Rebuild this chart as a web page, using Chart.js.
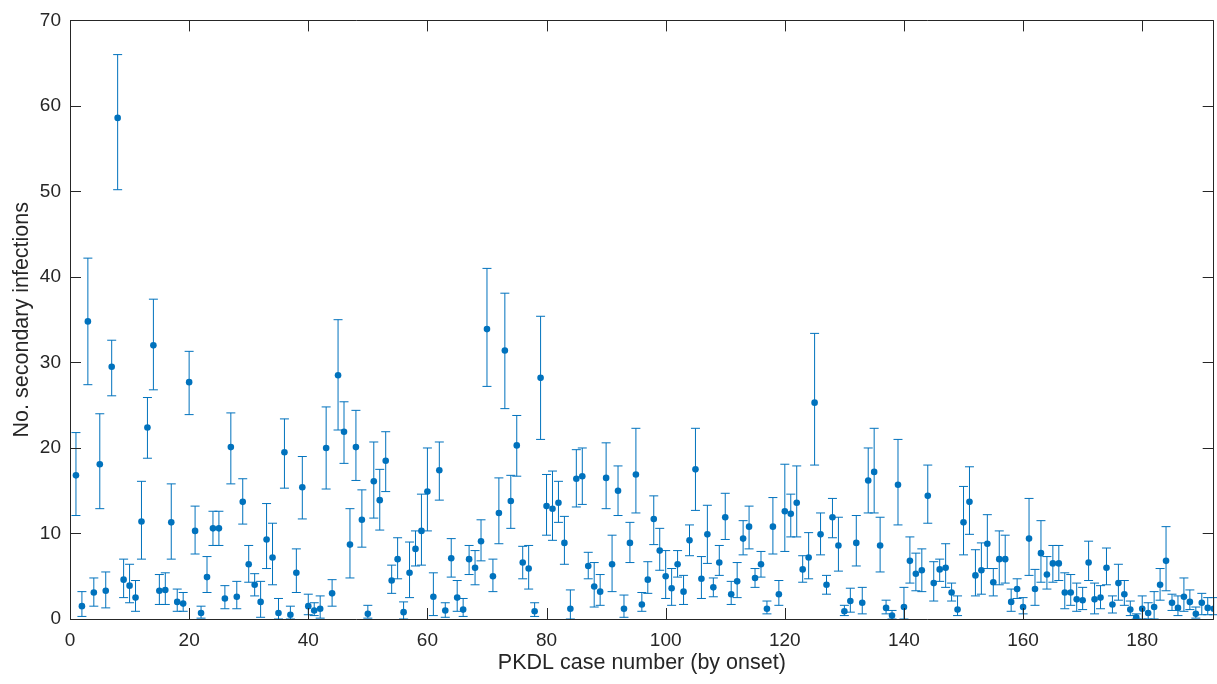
<!DOCTYPE html>
<html>
<head>
<meta charset="utf-8">
<style>
  html, body { margin: 0; padding: 0; background: #ffffff; }
  #wrap { width: 1217px; height: 684px; }
</style>
<script src="https://cdn.jsdelivr.net/npm/chart.js@4.4.1/dist/chart.umd.min.js"></script>
</head>
<body>
<div id="wrap"><canvas id="c" width="1217" height="684"></canvas></div>
<script>
// Estimated number of secondary infections per PKDL case (ordered by onset)
const secondary = [
  16.8, 1.5, 34.8, 3.1, 18.1, 3.3, 29.5, 58.6, 4.6, 3.9,
  2.5, 11.4, 22.4, 32.0, 3.3, 3.4, 11.3, 2.0, 1.8, 27.7,
  10.3, 0.7, 4.9, 10.6, 10.6, 2.4, 20.1, 2.6, 13.7, 6.4,
  4.0, 2.0, 9.3, 7.2, 0.7, 19.5, 0.5, 5.4, 15.4, 1.5,
  1.0, 1.2, 20.0, 3.0, 28.5, 21.9, 8.7, 20.1, 11.6, 0.6,
  16.1, 13.9, 18.5, 4.5, 7.0, 0.8, 5.4, 8.2, 10.3, 14.9,
  2.6, 17.4, 1.0, 7.1, 2.5, 1.1, 7.0, 6.0, 9.1, 33.9,
  5.0, 12.4, 31.4, 13.8, 20.3, 6.6, 5.9, 0.9, 28.2, 13.2,
  12.9, 13.6, 8.9, 1.2, 16.4, 16.7, 6.2, 3.8, 3.2, 16.5,
  6.4, 15.0, 1.2, 8.9, 16.9, 1.7, 4.6, 11.7, 8.0, 5.0,
  3.6, 6.4, 3.2, 9.2, 17.5, 4.7, 9.9, 3.7, 6.6, 11.9,
  2.9, 4.4, 9.4, 10.8, 4.8, 6.4, 1.2, 10.8, 2.9, 12.6,
  12.3, 13.6, 5.8, 7.2, 25.3, 9.9, 4.0, 11.9, 8.6, 0.9,
  2.1, 8.9, 1.9, 16.2, 17.2, 8.6, 1.3, 0.4, 15.7, 1.4,
  6.8, 5.3, 5.7, 14.4, 4.2, 5.8, 6.0, 3.1, 1.1, 11.3,
  13.7, 5.1, 5.7, 8.8, 4.3, 7.0, 7.0, 2.0, 3.5, 1.4,
  9.4, 3.5, 7.7, 5.2, 6.5, 6.5, 3.1, 3.1, 2.3, 2.2,
  6.6, 2.3, 2.5, 6.0, 1.7, 4.2, 2.9, 1.1, 0.2, 1.2,
  0.7, 1.4, 4.0, 6.8, 1.9, 1.3, 2.6, 2.0, 0.6, 1.9,
  1.3, 1.2
];
// Lower bound of the interval
const lower = [
  12.1, 0.3, 27.4, 1.5, 12.9, 1.3, 26.1, 50.2, 2.5, 1.9,
  0.9, 7.0, 18.8, 26.8, 1.7, 1.7, 7.0, 0.9, 0.9, 23.9,
  7.6, 0.1, 3.1, 8.6, 8.6, 1.2, 15.8, 1.2, 11.1, 4.3,
  2.7, 0.2, 5.9, 4.0, 0.0, 15.3, 0.0, 3.1, 11.7, 0.5,
  0.4, 0.1, 15.2, 1.5, 22.1, 18.2, 4.8, 16.2, 8.4, 0.1,
  11.8, 10.4, 14.9, 3.0, 4.7, 0.0, 2.5, 6.2, 6.3, 10.3,
  0.4, 13.9, 0.2, 4.9, 0.9, 0.3, 5.2, 4.0, 6.8, 27.2,
  3.2, 8.8, 24.6, 10.6, 16.7, 4.7, 3.5, 0.3, 21.0, 9.8,
  9.2, 11.3, 6.4, 0.0, 13.1, 13.4, 4.7, 1.4, 1.6, 12.9,
  3.2, 12.1, 0.2, 6.6, 12.4, 0.9, 3.0, 8.7, 5.7, 2.4,
  1.6, 4.9, 1.7, 7.4, 12.7, 2.4, 6.5, 2.6, 5.1, 9.3,
  1.7, 2.5, 7.5, 8.2, 3.7, 4.9, 0.6, 7.6, 1.6, 7.9,
  9.6, 9.6, 4.3, 4.7, 18.0, 7.5, 2.9, 9.5, 5.6, 0.4,
  0.8, 6.2, 0.6, 12.4, 12.4, 5.5, 0.6, 0.0, 11.0, 0.0,
  4.2, 3.3, 3.2, 11.2, 2.1, 4.4, 3.7, 2.1, 0.4, 7.5,
  9.9, 2.7, 2.9, 5.9, 2.7, 4.0, 4.2, 0.9, 2.4, 0.6,
  5.1, 1.6, 4.3, 3.5, 4.3, 4.5, 1.2, 1.6, 0.9, 1.1,
  4.5, 0.6, 1.2, 4.0, 0.7, 2.2, 1.6, 0.4, 0.0, 0.0,
  0.0, 0.0, 2.2, 3.3, 1.0, 0.4, 0.9, 1.1, 0.1, 0.5,
  0.5, 0.5
];
// Upper bound of the interval
const upper = [
  21.8, 3.2, 42.2, 4.8, 24.0, 5.5, 32.6, 66.0, 7.0, 6.4,
  4.5, 16.1, 25.9, 37.4, 5.2, 5.4, 15.8, 3.5, 3.1, 31.3,
  13.2, 1.5, 7.3, 12.6, 12.6, 3.9, 24.1, 4.4, 16.4, 8.6,
  5.3, 4.4, 13.5, 11.2, 2.4, 23.4, 1.5, 8.2, 19.0, 2.9,
  1.9, 2.7, 24.8, 4.6, 35.0, 25.4, 12.9, 24.4, 15.1, 1.6,
  20.7, 17.5, 21.9, 6.3, 9.5, 2.0, 9.0, 10.3, 14.6, 20.0,
  5.4, 20.7, 1.9, 9.4, 4.5, 2.4, 8.6, 8.0, 11.6, 41.0,
  7.0, 16.5, 38.1, 16.8, 23.8, 8.5, 8.6, 1.9, 35.4, 16.9,
  17.3, 16.1, 12.0, 3.4, 19.8, 20.0, 7.8, 6.6, 5.2, 20.6,
  9.8, 17.9, 2.8, 11.3, 22.3, 3.1, 6.7, 14.4, 10.6, 8.0,
  5.9, 8.0, 5.1, 11.0, 22.3, 7.3, 13.3, 4.8, 8.6, 14.7,
  4.4, 6.6, 11.5, 13.2, 5.9, 7.9, 2.1, 14.2, 4.5, 18.1,
  14.6, 17.9, 7.4, 10.1, 33.4, 12.4, 5.1, 14.1, 11.9, 1.6,
  3.6, 12.1, 3.7, 20.0, 22.3, 11.9, 2.2, 1.0, 21.0, 3.7,
  9.6, 7.7, 8.2, 18.0, 6.7, 7.0, 8.8, 4.2, 2.7, 15.5,
  17.8, 8.1, 8.9, 12.2, 5.9, 10.3, 9.8, 3.5, 4.7, 2.5,
  14.1, 5.8, 11.5, 7.3, 8.6, 8.6, 5.4, 5.2, 4.2, 3.7,
  9.1, 4.2, 3.9, 8.3, 2.7, 6.4, 4.5, 2.1, 0.6, 2.7,
  1.9, 3.2, 5.9, 10.8, 2.9, 2.7, 4.8, 3.4, 1.4, 3.0,
  2.5, 2.5
];
// PKDL case number (by onset): 1..N
const caseNumber = secondary.map((_, i) => i + 1);

const xTitle = 'PKDL case number (by onset)';
const yTitle = 'No. secondary infections';

const MARK = '#0072BD';
const AXIS = '#262626';
const FONT = '"Liberation Sans", Arial, Helvetica, sans-serif';

const errorBars = {
  id: 'errorBars',
  beforeDatasetsDraw(chart) {
    const { ctx, scales: { x, y } } = chart;
    ctx.save();
    ctx.strokeStyle = MARK;
    ctx.lineWidth = 1;
    const cap = 4.5;
    for (let i = 0; i < caseNumber.length; i++) {
      const px = x.getPixelForValue(caseNumber[i]);
      const yt = y.getPixelForValue(upper[i]);
      const yb = y.getPixelForValue(lower[i]);
      ctx.beginPath();
      ctx.moveTo(px, yt); ctx.lineTo(px, yb);
      ctx.moveTo(px - cap, yt); ctx.lineTo(px + cap, yt);
      ctx.moveTo(px - cap, yb); ctx.lineTo(px + cap, yb);
      ctx.stroke();
    }
    ctx.restore();
  }
};

const boxTicks = {
  id: 'boxTicks',
  afterDraw(chart) {
    const { ctx, chartArea: a, scales: { x, y } } = chart;
    const L = 11;
    ctx.save();
    ctx.strokeStyle = AXIS;
    ctx.lineWidth = 1;
    ctx.beginPath();
    ctx.rect(Math.round(a.left) + 0.5, Math.round(a.top) + 0.5,
             Math.round(a.right - a.left) - 1, Math.round(a.bottom - a.top));
    ctx.stroke();
    ctx.beginPath();
    x.ticks.forEach(t => {
      const px = Math.round(x.getPixelForValue(t.value)) + 0.5;
      ctx.moveTo(px, a.bottom); ctx.lineTo(px, a.bottom - L);
      ctx.moveTo(px, a.top); ctx.lineTo(px, a.top + L);
    });
    y.ticks.forEach(t => {
      const py = Math.round(y.getPixelForValue(t.value)) + 0.5;
      ctx.moveTo(a.left, py); ctx.lineTo(a.left + L, py);
      ctx.moveTo(a.right, py); ctx.lineTo(a.right - L, py);
    });
    ctx.stroke();
    ctx.restore();
  }
};

new Chart(document.getElementById('c'), {
  type: 'scatter',
  data: {
    datasets: [{
      data: caseNumber.map((c, i) => ({ x: c, y: secondary[i] })),
      backgroundColor: MARK,
      borderWidth: 0,
      pointRadius: 3.3,
      pointHoverRadius: 3.3
    }]
  },
  options: {
    responsive: false,
    animation: false,
    events: [],
    layout: { padding: { top: 18, right: 2, left: 0, bottom: 0 } },
    plugins: { legend: { display: false }, tooltip: { enabled: false } },
    scales: {
      x: {
        type: 'linear',
        min: 0, max: 192,
        grid: { display: false, drawTicks: false },
        border: { display: false },
        ticks: { stepSize: 20, includeBounds: false, padding: 10, color: AXIS,
                 font: { family: FONT, size: 19 }, maxRotation: 0 },
        title: { display: true, text: xTitle, color: AXIS,
                 font: { family: FONT, size: 21.5 }, padding: { top: 0, bottom: 8 } },
        afterFit(s) { s.height = 65; }
      },
      y: {
        type: 'linear',
        min: 0, max: 70,
        grid: { display: false, drawTicks: false },
        border: { display: false },
        ticks: { stepSize: 10, padding: 9, color: AXIS,
                 font: { family: FONT, size: 19 } },
        title: { display: true, text: yTitle, color: AXIS,
                 font: { family: FONT, size: 21.5 }, padding: { top: 9, bottom: 0 } },
        afterFit(s) { s.width = 70; }
      }
    }
  },
  plugins: [errorBars, boxTicks]
});
</script>
</body>
</html>
